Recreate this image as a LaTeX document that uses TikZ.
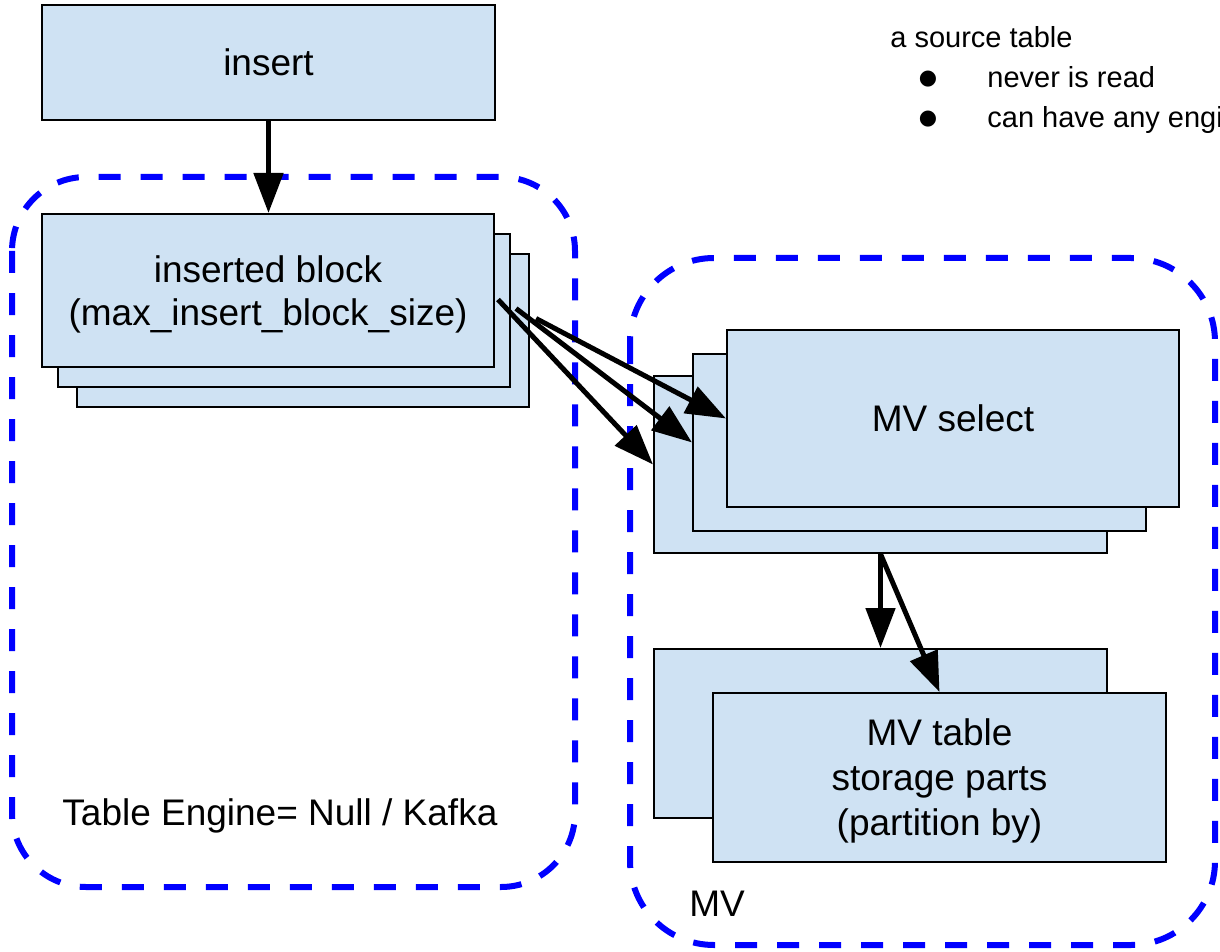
\documentclass[tikz,border=0pt]{standalone}
\usepackage{fontspec}
\setmainfont{Liberation Sans}
\newfontfamily\bulletfont{DejaVu Sans}
\usetikzlibrary{arrows.meta}
\definecolor{boxblue}{HTML}{CFE2F3}

\begin{document}
\begin{tikzpicture}[x=0.5pt,y=-0.5pt,
		box/.style={draw=black, line width=1pt, fill=boxblue, inner sep=0pt, align=center, text depth=0pt, font=\fontsize{18.5}{21.5}\selectfont},
		flow/.style={line width=2.5pt, -{Triangle[length=20pt,width=14.5pt]}},
		group/.style={draw=blue, line width=3pt, dash pattern=on 11pt off 10pt},
		label/.style={anchor=base west, inner sep=0pt, font=\fontsize{18.5}{22}\selectfont},
		note/.style={anchor=base west, inner sep=0pt, font=\fontsize{14.5}{18}\selectfont}]
			\useasboundingbox (0,0) rectangle (1220,952);
			% the two dashed groups
			\draw[group, rounded corners=37pt] (12,177) rectangle (575,887);
			\draw[group, rounded corners=42pt] (630,258) rectangle (1215,945);
			% source side
			\node[box, minimum width=226.5pt, minimum height=57.5pt] (insert) at (268.5,62.5) {insert};
			\node[box, minimum width=226pt, minimum height=76.5pt] (blockC) at (303,330.5) {};
			\node[box, minimum width=226pt, minimum height=76.5pt] (blockB) at (284,310.5) {};
			\node[box, minimum width=226pt, minimum height=76.5pt] (block) at (268,290.5) {inserted block\\(max\_insert\_block\_size)};
			\node[label] (engine) at (62,825) {Table Engine= Null / Kafka};
			% MV side
			\node[box, minimum width=226.5pt, minimum height=88.5pt] (selC) at (880.5,464.5) {};
			\node[box, minimum width=226.5pt, minimum height=88.5pt] (selB) at (919.5,442.5) {};
			\node[box, minimum width=226pt, minimum height=88.5pt] (sel) at (953,418.5) {MV select};
			\node[box, minimum width=226.5pt, minimum height=84.5pt] (tblC) at (880.5,733.5) {};
			\node[box, minimum width=226.5pt, minimum height=84.5pt, font=\fontsize{18.5}{22.5}\selectfont] (tbl) at (939.5,777.5) {MV table\\storage parts\\(partition by)};
			\node[label] (mv) at (689,916) {MV};
			% arrows
			\draw[flow] (insert.south) -- (insert.south |- block.north);
			\draw[flow] ([shift={(3,9)}]block.east) -- (selC.west);
			\draw[flow] ([shift={(5,-2)}]blockB.east) -- (selB.west);
			\draw[flow] ([shift={(6,-12)}]blockC.east) -- (sel.west);
			\draw[flow] (selC.south) -- (tblC.north);
			\draw[flow] (selC.south) -- (tbl.north);
			% note in the corner
			\node[note] (source) at (890,48) {a source table};
			\node[inner sep=0pt, font=\bulletfont\fontsize{10.5}{12}\selectfont] (dotA) at (928,79) {●};
			\node[note] (itemA) at (987,88) {never is read};
			\node[inner sep=0pt, font=\bulletfont\fontsize{10.5}{12}\selectfont] (dotB) at (928,119) {●};
			\node[note] (itemB) at (987,128) {can have any engi};
		\end{tikzpicture}
\end{document}
